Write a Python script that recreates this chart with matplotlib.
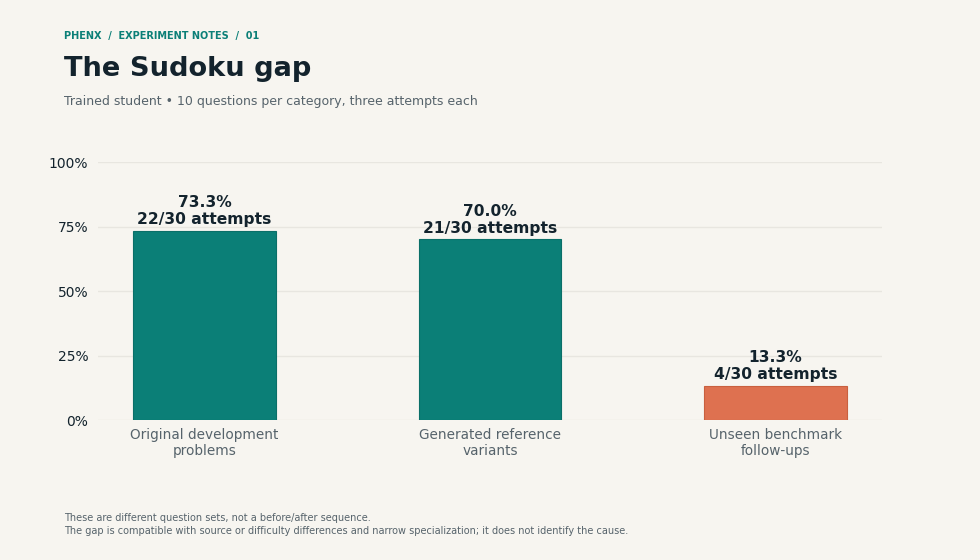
import matplotlib
matplotlib.use('Agg')
import matplotlib.pyplot as plt

plt.rcParams['font.family'] = ['DejaVu Sans']

# data
categories = ['Original development\nproblems', 'Generated reference\nvariants',
              'Unseen benchmark\nfollow-ups']
correct = [22, 21, 4]
attempts = [30, 30, 30]
bar_colors = ['#0B7F77', '#0B7F77', '#DE7150']
edge_colors = ['#0A6F68', '#0A6F68', '#C9603F']

bg = '#F7F5F0'
dark = '#13232D'
grey = '#56636B'

rates = [100 * c / a for c, a in zip(correct, attempts)]

fig = plt.figure(figsize=(9.8, 5.6), dpi=100, facecolor=bg)
ax = fig.add_axes([0.1, 0.25, 0.8, 0.4607])
ax.set_facecolor(bg)

x = range(len(categories))
ax.bar(x, rates, width=0.5, color=bar_colors, edgecolor=edge_colors, lw=0.8, zorder=3)

for xi, r, c, a in zip(x, rates, correct, attempts):
    ax.text(xi, r + 1.5, '{:.1f}%\n{}/{} attempts'.format(r, c, a), ha='center', va='bottom',
            fontsize=11.2, fontweight='bold', color=dark, linespacing=1.12, zorder=4)

ax.set_xlim(-0.373, 2.373)
ax.set_ylim(0, 100)
ax.set_yticks([0, 25, 50, 75, 100])
ax.set_yticklabels(['0%', '25%', '50%', '75%', '100%'])
ax.set_xticks(list(x))
ax.set_xticklabels(categories, color=grey, fontsize=9.8, linespacing=1.12)
ax.tick_params(axis='both', length=0)
ax.tick_params(axis='y', labelsize=10, labelcolor=dark, pad=7)
ax.tick_params(axis='x', pad=6)
ax.grid(axis='y', color='#E8E6E0', lw=1, zorder=0)
for s in ax.spines.values():
    s.set_visible(False)

# header
fig.text(64 / 980, 1 - 36 / 560, 'PHENX  /  EXPERIMENT NOTES  /  01', fontsize=7,
         fontweight='bold', color='#0B7F77', va='center')
fig.text(64 / 980, 1 - 69 / 560, 'The Sudoku gap', fontsize=19.6, fontweight='bold',
         color=dark, va='center')
fig.text(64 / 980, 1 - 102 / 560,
         'Trained student \u2022 10 questions per category, three attempts each',
         fontsize=9, color=grey, va='center')

# footnote
fig.text(64 / 980, 1 - 518 / 560, 'These are different question sets, not a before/after sequence.',
         fontsize=7, color=grey, va='center')
fig.text(64 / 980, 1 - 531 / 560,
         'The gap is compatible with source or difficulty differences and narrow specialization; '
         'it does not identify the cause.', fontsize=7, color=grey, va='center')

fig.savefig('out.png', dpi=100, facecolor=bg)
